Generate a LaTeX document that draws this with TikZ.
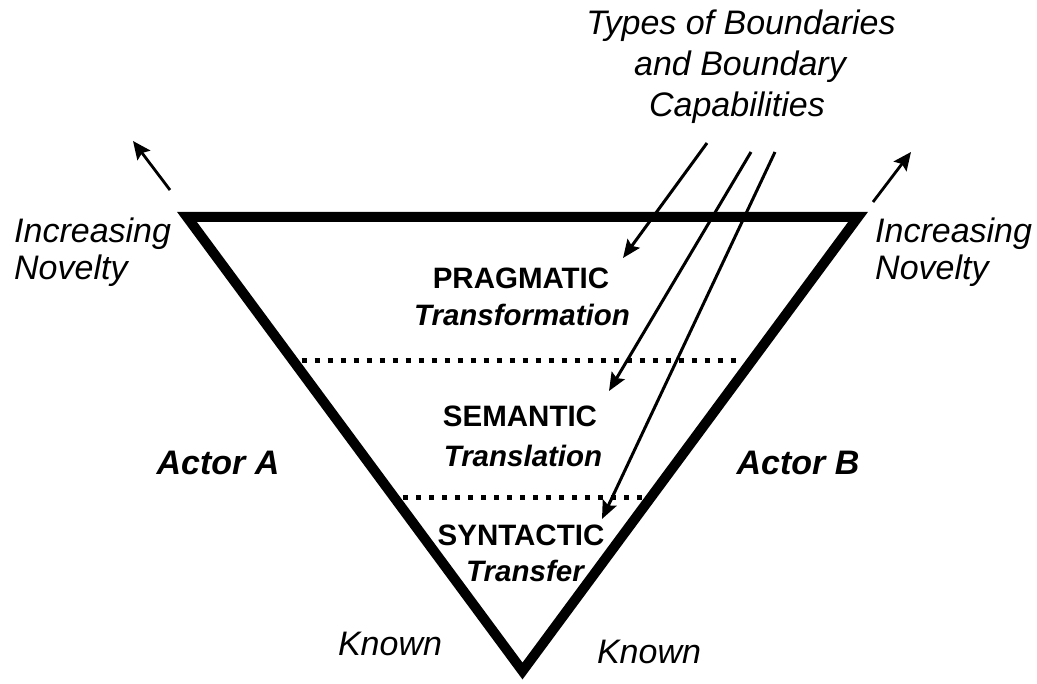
\documentclass[tikz,border=0pt]{standalone}
\usepackage{fontspec}
\setmainfont{Liberation Sans}
\usetikzlibrary{arrows.meta,calc}
\begin{document}
\begin{tikzpicture}[x=1pt,y=-1pt,
  txt/.style={inner sep=0pt,anchor=base},
  itl/.style={txt,font=\fontsize{34}{40}\selectfont\itshape},
  bitl/.style={txt,font=\fontsize{34}{40}\selectfont\bfseries\itshape},
  bsm/.style={txt,font=\fontsize{29.5}{35}\selectfont\bfseries},
  bism/.style={txt,font=\fontsize{29.5}{35}\selectfont\bfseries\itshape},
  arr/.style={line width=3pt,-{Stealth[length=18pt,width=15pt,inset=3pt]}},
  carr/.style={line width=2.8pt,-{Stealth[length=18pt,width=16pt,inset=3pt]}},
  dotline/.style={line width=5pt,dash pattern=on 5pt off 8pt,shorten <=9pt,shorten >=9pt},
  tri/.style={line width=10pt,line join=miter}]
\useasboundingbox (0,0) rectangle (1037,684);
% triangle
\coordinate (tl) at (187,217);
\coordinate (tr) at (858,217);
\coordinate (ap) at (522.5,671);
\draw[tri] (tl) -- (tr) -- (ap) -- cycle;
% dotted boundaries
\coordinate (d1l) at ($(tl)!0.315!(ap)$);
\coordinate (d1r) at ($(tr)!0.315!(ap)$);
\coordinate (d2l) at ($(tl)!0.617!(ap)$);
\coordinate (d2r) at ($(tr)!0.617!(ap)$);
\draw[dotline] (d1l) -- (d1r);
\draw[dotline] (d2l) -- (d2r);
% title
\node[itl] (t1) at (741,35) {Types of Boundaries};
\node[itl] (t2) at (740,76) {and Boundary};
\node[itl] (t3) at (737,117) {Capabilities};
% side labels
\node[itl,anchor=base west] (inl1) at (14,243) {Increasing};
\node[itl,anchor=base west] (inl2) at (14,280) {Novelty};
\node[itl,anchor=base west] (inr1) at (875,243) {Increasing};
\node[itl,anchor=base west] (inr2) at (875,280) {Novelty};
% layers
\node[bsm] (prag) at (521,289) {PRAGMATIC};
\node[bism] (trf) at (522,326) {Transformation};
\node[bsm] (sem) at (520,427) {SEMANTIC};
\node[bism] (trl) at (523,467) {Translation};
\node[bsm] (syn) at (521,546) {SYNTACTIC};
\node[bism] (tsf) at (525,582) {Transfer};
% actors
\node[bitl] (aa) at (218,475) {Actor A};
\node[bitl] (ab) at (798,475) {Actor B};
% known
\node[itl] (kl) at (390,655) {Known};
\node[itl] (kr) at (649,663) {Known};
% boundary arrows
\coordinate (s1) at (707,143);
\coordinate (s2) at (751,152);
\coordinate (s3) at (775,152);
\coordinate (e1) at (623,258);
\coordinate (e2) at (609,391);
\coordinate (e3) at (602,519);
\draw[arr] (s1) -- (e1);
\draw[arr] (s2) -- (e2);
\draw[arr] (s3) -- (e3);
% novelty arrows
\coordinate (nl0) at (170,190);
\coordinate (nl1) at (133,141);
\coordinate (nr0) at (873,202);
\coordinate (nr1) at (911,152);
\draw[carr] (nl0) -- (nl1);
\draw[carr] (nr0) -- (nr1);
\end{tikzpicture}
\end{document}
